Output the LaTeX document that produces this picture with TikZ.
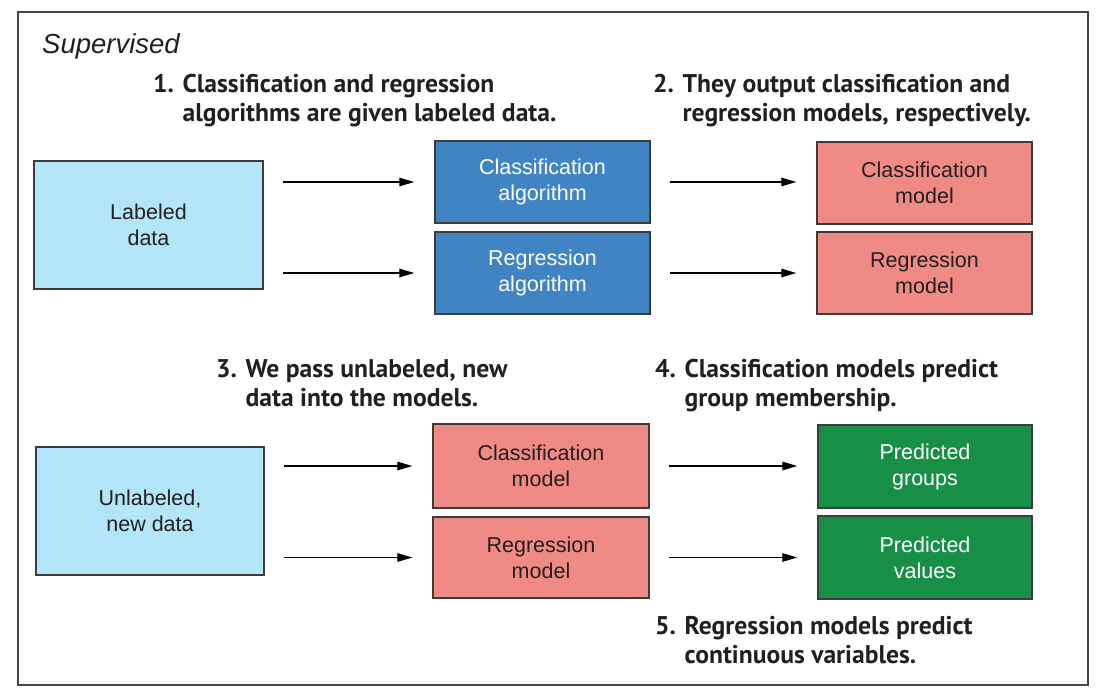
\documentclass[tikz,border=0pt]{standalone}
\usepackage{fontspec}
\setmainfont{Liberation Sans}
\newfontfamily\headfont{PT Sans}
\usetikzlibrary{arrows.meta}

\definecolor{framegray}{RGB}{70,70,70}
\definecolor{edgegray}{RGB}{60,60,60}
\definecolor{inkgray}{RGB}{35,31,32}
\definecolor{datablue}{RGB}{180,230,250}
\definecolor{algoblue}{RGB}{64,132,196}
\definecolor{modelred}{RGB}{239,138,132}
\definecolor{predgreen}{RGB}{23,143,70}

\tikzset{
  box/.style={draw=edgegray, line width=1.4pt, inner sep=0pt, align=center,
    font=\fontsize{21.5}{26}\selectfont},
  databox/.style={box, fill=datablue, text=inkgray},
  algobox/.style={box, fill=algoblue, text=white},
  modelbox/.style={box, fill=modelred, text=inkgray},
  predbox/.style={box, fill=predgreen, text=white},
  flow/.style={draw=black, line width=1.3pt,
    -{Triangle[length=15pt,width=8.5pt]}, shorten <=19pt, shorten >=20pt},
  % anchored at the baseline of the second (last) line
  steplabel/.style={anchor=base west, inner sep=0pt, align=left, text=inkgray,
    font=\headfont\bfseries\fontsize{25.6}{28.5}\selectfont},
}

\begin{document}
\begin{tikzpicture}[x=1pt, y=-1pt]
  \useasboundingbox (0,0) rectangle (1102,699);
  \draw[framegray, line width=2pt] (18,12) rectangle (1088,685);

  \node[anchor=base west, inner sep=0pt, text=inkgray,
    font=\itshape\fontsize{27.5}{30}\selectfont] (title) at (42,53) {Supervised};

  % training stage
  \node[databox, minimum width=229pt, minimum height=128pt] (ld) at (148.5,225) {Labeled\\data};
  \node[algobox, minimum width=215pt, minimum height=82pt] (ca) at (542.5,182) {Classification\\algorithm};
  \node[algobox, minimum width=215pt, minimum height=82pt] (ra) at (542.5,273) {Regression\\algorithm};
  \node[modelbox, minimum width=215pt, minimum height=82pt] (cm) at (924.5,183) {Classification\\model};
  \node[modelbox, minimum width=215pt, minimum height=82pt] (rm) at (924.5,273) {Regression\\model};

  \draw[flow] (ld.east |- ca.west) -- (ca.west);
  \draw[flow] (ld.east |- ra.west) -- (ra.west);
  \draw[flow] (ca.east) -- (cm.west |- ca.east);
  \draw[flow] (ra.east) -- (rm.west |- ra.east);

  % prediction stage
  \node[databox, minimum width=228pt, minimum height=128pt] (un) at (150,511) {Unlabeled,\\new data};
  \node[modelbox, minimum width=216pt, minimum height=84pt] (bcm) at (541,466) {Classification\\model};
  \node[modelbox, minimum width=216pt, minimum height=81pt] (brm) at (541,557.5) {Regression\\model};
  \node[predbox, minimum width=214pt, minimum height=83pt] (pg) at (925,466.5) {Predicted\\groups};
  \node[predbox, minimum width=214pt, minimum height=83pt] (pv) at (925,557.5) {Predicted\\values};

  \draw[flow] (un.east |- bcm.west) -- (bcm.west);
  \draw[flow] (un.east |- brm.west) -- (brm.west);
  \draw[flow] (bcm.east) -- (pg.west |- bcm.east);
  \draw[flow] (brm.east) -- (pv.west |- brm.east);

  % numbered step captions
  \node[steplabel] (s1) at (153,121) {1. Classification and regression\\\phantom{1. }algorithms are given labeled data.};
  \node[steplabel] (s2) at (653,121) {2. They output classification and\\\phantom{2. }regression models, respectively.};
  \node[steplabel] (s3) at (216,406) {3. We pass unlabeled, new\\\phantom{3. }data into the models.};
  \node[steplabel] (s4) at (655,406) {4. Classification models predict\\\phantom{4. }group membership.};
  \node[steplabel] (s5) at (655,663) {5. Regression models predict\\\phantom{5. }continuous variables.};
\end{tikzpicture}
\end{document}
